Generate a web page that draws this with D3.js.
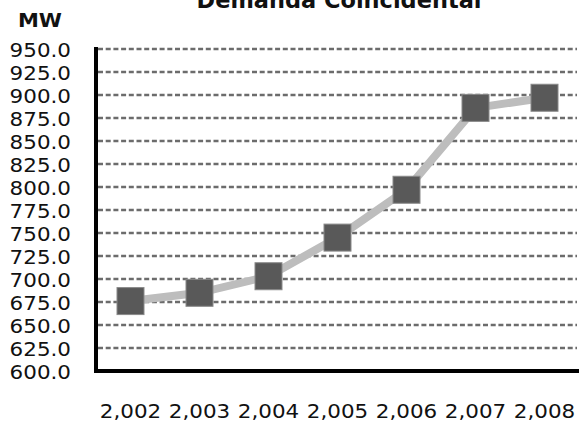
<!DOCTYPE html>
<html>
<head>
<meta charset="utf-8">
<script src="https://cdn.jsdelivr.net/npm/d3@7"></script>
<style>
  html, body { margin: 0; padding: 0; background: #fff; }
  svg { display: block; }
  text { font-family: "DejaVu Sans", sans-serif; fill: #111; }
</style>
</head>
<body>
<script>
// Coincident demand (MW) by year
const years = ["2,002", "2,003", "2,004", "2,005", "2,006", "2,007", "2,008"];
const demandMW = [676, 685, 703, 745, 797, 886, 897];
const yTicks = [600, 625, 650, 675, 700, 725, 750, 775, 800, 825, 850, 875, 900, 925, 950];
const titleText = "Demanda Coincidental";
const unitText = "MW";

const W = 579, H = 423;
const margin = { left: 96, right: 0, top: 49, bottom: 52 };

const svg = d3.select("body").append("svg").attr("width", W).attr("height", H);

const x = d3.scaleBand().domain(years).range([margin.left, W - margin.right]).padding(0);
const y = d3.scaleLinear().domain([600, 950]).range([H - margin.bottom, margin.top]);

// widen a text element horizontally by a factor
function widen(sel, k) {
  sel.each(function () {
    const len = this.getComputedTextLength();
    d3.select(this).attr("textLength", len * k).attr("lengthAdjust", "spacingAndGlyphs");
  });
}

// dashed grid lines (all but the baseline)
svg.append("g")
  .selectAll("line")
  .data(yTicks.filter(v => v > 600))
  .join("line")
  .attr("x1", margin.left + 2)
  .attr("x2", W - 2)
  .attr("y1", d => y(d))
  .attr("y2", d => y(d))
  .attr("stroke", "#6c6c6c")
  .attr("stroke-width", 2.4)
  .attr("stroke-dasharray", "5,2.7");

// y axis labels
const yAxis = d3.axisLeft(y).tickValues(yTicks).tickFormat(d3.format(".1f")).tickSize(0).tickPadding(25);
const gy = svg.append("g").attr("transform", `translate(${margin.left},0)`).call(yAxis);
gy.select(".domain").remove();
gy.selectAll("text")
  .attr("font-size", 19.5)
  .attr("font-family", "DejaVu Sans")
  .attr("fill", "#151515")
  .attr("dy", "0.36em")
  .call(widen, 1.1);

// x axis labels
const xAxis = d3.axisBottom(x).tickSize(0).tickPadding(33);
const gx = svg.append("g").attr("transform", `translate(0,${H - margin.bottom})`).call(xAxis);
gx.select(".domain").remove();
gx.selectAll("text")
  .attr("font-size", 19.5)
  .attr("font-family", "DejaVu Sans")
  .attr("fill", "#151515")
  .call(widen, 1.1);

// axis lines
svg.append("line")
  .attr("x1", margin.left).attr("x2", margin.left)
  .attr("y1", y(950) - 2).attr("y2", y(600) + 2)
  .attr("stroke", "#000").attr("stroke-width", 4);
svg.append("line")
  .attr("x1", margin.left - 2).attr("x2", W)
  .attr("y1", y(600)).attr("y2", y(600))
  .attr("stroke", "#000").attr("stroke-width", 4);

// demand line
const line = d3.line().x((d, i) => x(years[i]) + x.bandwidth() / 2).y(d => y(d));
svg.append("path")
  .datum(demandMW)
  .attr("d", line)
  .attr("fill", "none")
  .attr("stroke", "#bdbdbd")
  .attr("stroke-width", 8);

// square markers
const S = 27;
svg.append("g")
  .selectAll("rect")
  .data(demandMW)
  .join("rect")
  .attr("x", (d, i) => x(years[i]) + x.bandwidth() / 2 - S / 2)
  .attr("y", d => y(d) - S / 2)
  .attr("width", S)
  .attr("height", S)
  .attr("fill", "#595959")
  .attr("stroke", "#8a8a8a")
  .attr("stroke-width", 1);

// title
svg.append("text")
  .attr("x", 339)
  .attr("y", 8)
  .attr("text-anchor", "middle")
  .attr("font-family", "Open Sans")
  .attr("font-weight", "bold")
  .attr("font-size", 23)
  .attr("fill", "#000")
  .text(titleText)
  .attr("textLength", 285)
  .attr("lengthAdjust", "spacingAndGlyphs");

// unit label
svg.append("text")
  .attr("x", 40)
  .attr("y", 27)
  .attr("text-anchor", "middle")
  .attr("font-family", "Open Sans")
  .attr("font-weight", "bold")
  .attr("font-size", 20)
  .attr("fill", "#111")
  .text(unitText)
  .attr("textLength", 44)
  .attr("lengthAdjust", "spacingAndGlyphs");
</script>
</body>
</html>
